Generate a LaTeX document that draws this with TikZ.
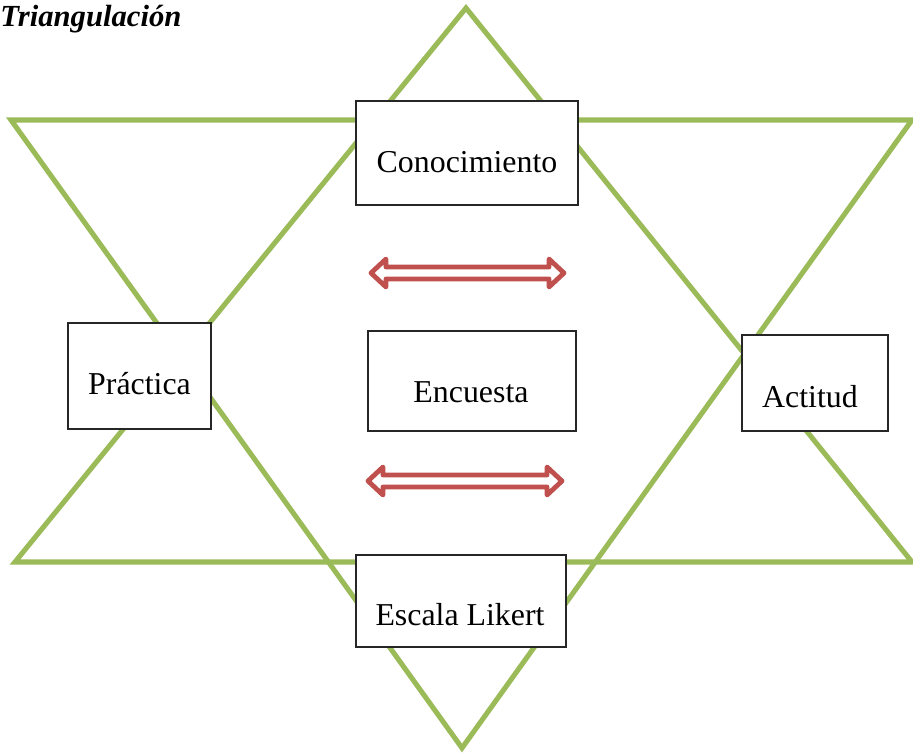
\documentclass[tikz,border=0pt]{standalone}
\usepackage{fontspec}
\setmainfont{Liberation Serif}
\definecolor{olivegreen}{HTML}{9BBB59}
\definecolor{arrowred}{HTML}{C0504D}
\newcommand\dblarr[3]{%
  \draw[arrowred, line width=3.6pt, line join=round, fill=white]
    (#1,#3) -- ++(15,-14) -- ++(0,8) -- (#2-15,#3-6) -- ++(0,-8) -- (#2,#3)
    -- ++(-15,14) -- ++(0,-8) -- (#1+15,#3+6) -- ++(0,8) -- cycle;}
\tikzset{
  tri/.style={draw=olivegreen, line width=3.8pt, line join=miter},
  labelbox/.style={draw=black!85, line width=0.9pt, fill=white},
  lbl/.style={font=\fontsize{23.9}{28}\selectfont, anchor=base, inner sep=0pt},
}
\begin{document}
\begin{tikzpicture}[x=0.75pt, y=-0.75pt]
\useasboundingbox (0,0) rectangle (913,754);
% triangles
\draw[tri] (466,8) -- (15,562) -- (912,562) -- cycle;
\draw[tri] (11,120) -- (912,120) -- (462,748) -- cycle;
% boxes
\draw[labelbox] (356,101) rectangle (578,205);
\coordinate (conb) at (467,172);
\node[lbl] (con) at (conb) {Conocimiento};
\draw[labelbox] (68,323) rectangle (211,429);
\coordinate (prab) at (139.5,394);
\node[lbl] (pra) at (prab) {Práctica};
\draw[labelbox] (368,331) rectangle (576,431);
\coordinate (encb) at (471,402);
\node[lbl] (enc) at (encb) {Encuesta};
\draw[labelbox] (742,335) rectangle (888,431);
\coordinate (actb) at (810,407);
\node[lbl] (act) at (actb) {Actitud};
\draw[labelbox] (356,555) rectangle (566,647);
\coordinate (escb) at (460,625);
\node[lbl] (esc) at (escb) {Escala Likert};
% arrows
\dblarr{371}{564}{273}
\dblarr{368}{562}{481}
% title
\node[font=\fontsize{23}{28}\selectfont\bfseries\itshape, anchor=base west, inner sep=0pt] (title) at (0,26) {Triangulación};
\end{tikzpicture}
\end{document}
